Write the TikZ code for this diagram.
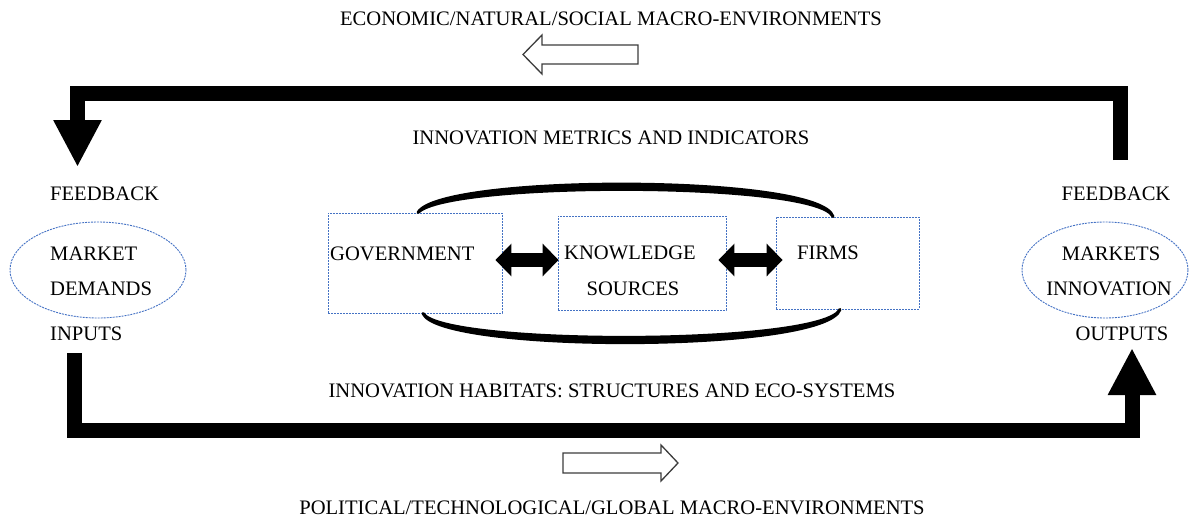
\documentclass[tikz,border=0pt]{standalone}
\usepackage{fontspec}
\setmainfont{Liberation Serif}
\usetikzlibrary{arrows.meta,shapes.geometric}
\definecolor{dashblue}{RGB}{68,114,196}
\definecolor{outlinegray}{RGB}{60,60,60}
\tikzset{
  txt/.style={inner sep=0pt,anchor=base},
  actorbox/.style={draw=dashblue,line width=0.9pt,dash pattern=on 2pt off 1pt,inner sep=0pt},
  marketring/.style={ellipse,draw=dashblue,line width=0.9pt,dash pattern=on 2pt off 1pt,inner sep=0pt},
  bigflow/.style={line width=15pt,line join=miter,-{Triangle[length=47pt,width=45pt]}},
  linkarrow/.style={line width=14pt,{Triangle[length=16pt,width=32pt]}-{Triangle[length=16pt,width=32pt]}},
  loopline/.style={line width=3pt,line join=round,fill=black},
  hollow/.style={draw=outlinegray,line width=1.3pt,fill=white,line join=miter}
}
\begin{document}
\begin{tikzpicture}[x=1pt,y=-1pt,font=\fontsize{20.6}{35.5}\selectfont]
        \useasboundingbox (0,0) rectangle (1189,522);
        %% macro-environments
        \node[txt] (econ) at (611,25) {ECONOMIC/NATURAL/SOCIAL MACRO-ENVIRONMENTS};
        \draw[hollow] (638,45) -- (542,45) -- (542,35) -- (523,54.5) -- (542,74) -- (542,64) -- (638,64) -- cycle;
        \node[txt] (polit) at (612,514) {POLITICAL/TECHNOLOGICAL/GLOBAL MACRO-ENVIRONMENTS};
        \draw[hollow] (563,453) -- (661,453) -- (661,445) -- (678,463) -- (661,481) -- (661,473) -- (563,473) -- cycle;
        \node[txt] (metrics) at (611,144) {INNOVATION METRICS AND INDICATORS};
        \node[txt] (habitats) at (612,397) {INNOVATION HABITATS: STRUCTURES AND ECO-SYSTEMS};
        %% Inputs side
        \node[txt,anchor=base west] (fbin) at (50,200) {FEEDBACK};
        \node[marketring,minimum width=176pt,minimum height=96pt] (demands) at (98,270) {};
        \node[txt,anchor=base west] (demA) at (50,260) {MARKET};
        \node[txt,anchor=base west] (demB) at (50,295) {DEMANDS};
        \node[txt,anchor=base west] (inputs) at (50,340) {INPUTS};
        %% Outputs side
        \node[txt] (fbout) at (1116,200) {FEEDBACK};
        \node[marketring,minimum width=166pt,minimum height=96pt] (outmarkets) at (1105,270) {};
        \node[txt] (outA) at (1111,260) {MARKETS};
        \node[txt] (outB) at (1109,295) {INNOVATION};
        \node[txt] (outputs) at (1122,340) {OUTPUTS};
        %% Actors
        \node[actorbox,minimum width=174pt,minimum height=100pt] (gov) at (415,263) {};
        \node[txt,anchor=base west] (govlbl) at (330,260) {GOVERNMENT};
        \node[actorbox,minimum width=168pt,minimum height=94pt] (know) at (642,263) {};
        \node[txt] (knowA) at (630,259) {KNOWLEDGE};
        \node[txt] (knowB) at (633,295) {SOURCES};
        \node[actorbox,minimum width=143pt,minimum height=92pt] (firms) at (847.5,263) {};
        \node[txt] (firmslbl) at (828,259) {FIRMS};
        %% links between actors
        \draw[linkarrow] ([xshift=-7pt,yshift=3pt]gov.east) -- ([xshift=1pt,yshift=3pt]know.west);
        \draw[linkarrow] ([xshift=-8pt,yshift=3pt]know.east) -- ([xshift=7pt,yshift=3pt]firms.west);
        \draw[loopline] ([xshift=3pt]gov.north) .. controls (440,174) and (820,174) .. ([xshift=-14.5pt]firms.north)
            .. controls (817,181) and (447,181) .. ([xshift=3pt]gov.north) -- cycle;
        \draw[loopline] ([xshift=8pt]gov.south) .. controls (440,353) and (825,353) .. ([xshift=-7.5pt]firms.south)
            .. controls (823,346) and (443,346) .. ([xshift=8pt]gov.south) -- cycle;
        %% Feedback loop
        \coordinate (fbsrc) at (1120.5,160);
        \coordinate (fbtip) at (77.5,167);
        \coordinate (toprail) at (0,93.5);
        \draw[bigflow] (fbsrc) -- (fbsrc |- toprail) -| (fbtip);
        %% Input to output flow
        \coordinate (insrc) at (74.5,353);
        \coordinate (outtip) at (1132,348);
        \coordinate (botrail) at (0,430.5);
        \draw[bigflow] (insrc) -- (insrc |- botrail) -| (outtip);
    \end{tikzpicture}
\end{document}
